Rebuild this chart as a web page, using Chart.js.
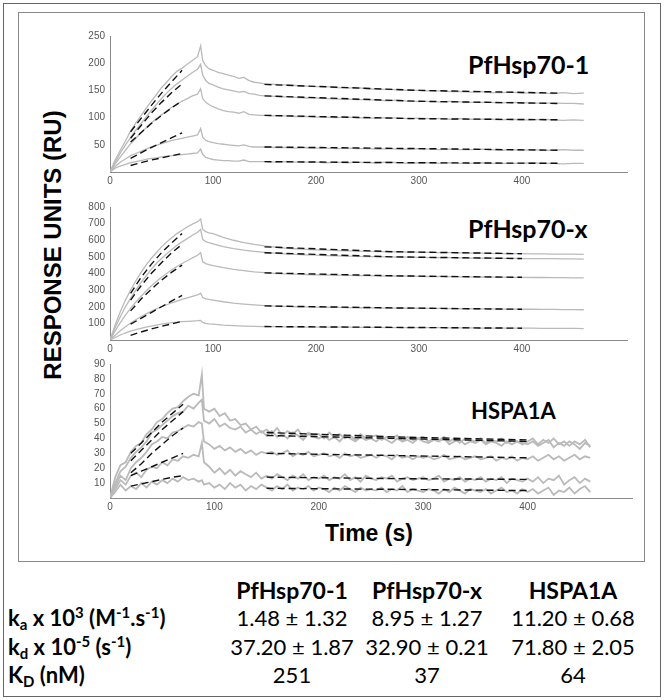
<!DOCTYPE html>
<html>
<head>
<meta charset="utf-8">
<script src="https://cdn.jsdelivr.net/npm/chart.js@4.4.1/dist/chart.umd.min.js"></script>
<style>
  body { margin: 0; width: 666px; height: 700px; background: #fff; position: relative; overflow: hidden; font-family: Lato, sans-serif; color: #000; }
  .abs { position: absolute; }
  .frame { position: absolute; box-sizing: border-box; }
  .title { position: absolute; font-family: Lato, sans-serif; font-weight: bold; font-size: 25px; line-height: 25px; white-space: nowrap; }
  .cell { position: absolute; width: 180px; text-align: center; font-size: 22px; line-height: 22px; white-space: nowrap; }
  .head { font-weight: bold; font-size: 23px; }
  .lab { position: absolute; left: 8px; font-weight: bold; font-size: 22px; line-height: 22px; white-space: nowrap; }
  sup, sub { font-size: 0.68em; line-height: 0; }
  sup { vertical-align: 0.55em; }
  sub { vertical-align: -0.28em; }
</style>
</head>
<body>
<div class="frame" style="left:3px;top:3px;width:658px;height:694px;border:1.5px solid #666;"></div>
<div class="frame" style="left:18px;top:12px;width:627px;height:550px;border:1.5px solid #888;"></div>

<div class="title" style="left:468px;top:52px;">PfHsp70-1</div>
<div class="title" style="left:468px;top:216px;">PfHsp70-x</div>
<div class="title" style="left:471px;top:400px;font-size:22px;line-height:22px;">HSPA1A</div>

<div class="abs" style="left:269px;top:522px;width:200px;text-align:center;font-family:'Liberation Sans',Arial,sans-serif;font-weight:bold;font-size:23px;line-height:23px;">Time (s)</div>
<div class="abs" style="left:-147px;top:230px;width:400px;height:30px;text-align:center;font-family:'Liberation Sans',Arial,sans-serif;font-weight:bold;font-size:24px;line-height:30px;transform:rotate(-90deg);">RESPONSE UNITS (RU)</div>

<div class="cell head" style="left:202px;top:579px;">PfHsp70-1</div>
<div class="cell head" style="left:337px;top:579px;">PfHsp70-x</div>
<div class="cell head" style="left:483px;top:579px;">HSPA1A</div>

<div class="lab" style="top:607px;">k<sub>a</sub> x 10<sup>3</sup> (M<sup>-1</sup>.s<sup>-1</sup>)</div>
<div class="cell" style="left:202px;top:607px;">1.48 ± 1.32</div>
<div class="cell" style="left:337px;top:607px;">8.95 ± 1.27</div>
<div class="cell" style="left:483px;top:607px;">11.20 ± 0.68</div>

<div class="lab" style="top:636px;">k<sub>d</sub> x 10<sup>-5</sup> (s<sup>-1</sup>)</div>
<div class="cell" style="left:202px;top:636px;">37.20 ± 1.87</div>
<div class="cell" style="left:337px;top:636px;">32.90 ± 0.21</div>
<div class="cell" style="left:483px;top:636px;">71.80 ± 2.05</div>

<div class="lab" style="top:664px;">K<sub>D</sub> (nM)</div>
<div class="cell" style="left:202px;top:664px;">251</div>
<div class="cell" style="left:337px;top:664px;">37</div>
<div class="cell" style="left:483px;top:664px;">64</div>

<script>
// tick labels
const xTicks = [0, 100, 200, 300, 400];
const yTicks1 = [50, 100, 150, 200, 250];
const yTicks2 = [100, 200, 300, 400, 500, 600, 700, 800];
const yTicks3 = [10, 20, 30, 40, 50, 60, 70, 80, 90];

// fit line time points
const assocT = [20, 30, 40, 50, 60, 70];
const dissT1 = [150, 300, 435];
const dissT = [150, 275, 400];

// PfHsp70-1 sensorgrams (RU)
const t1 = [0,5,10,15,20,25,30,35,40,45,50,55,60,65,70,75,80,85,88,90,93,96,100,105,110,115,120,125,130,135,140,145,150,160,170,180,190,200,210,220,230,240,250,260,270,280,290,300,310,320,330,340,350,360,370,380,390,400,410,420,430,440,450,460];
const p1c1 = [0,22,40,57,75,90,103,117,130,142,155,165,176,185,191,198,205,212,232,205,195,190,187,183,181,178,176,172,174,168,165,164,162,161,160,159,158,157,157,155,154,155,153,152,152,151,150,150,149,149,148,148,147,148,146,146,147,145,146,145,144,146,144,145];
const p1c2 = [0,18,35,50,63,77,89,101,113,124,135,145,154,162,169,176,183,189,198,178,168,163,160,156,153,151,149,147,148,144,143,141,140,139,138,137,136,136,135,134,134,133,133,132,131,132,130,130,130,129,130,129,128,128,128,127,128,127,127,126,127,126,126,125];
const p1c3 = [0,15,28,40,52,62,72,81,90,98,105,112,119,125,130,135,140,143,153,135,128,124,120,116,113,111,110,108,111,106,105,104,104,103,103,102,102,101,101,100,101,100,99,99,100,99,98,99,98,98,97,98,97,97,97,96,97,96,96,97,96,95,96,95];
const p1c4 = [0,10,18,24,30,34,38,42,46,49,52,55,58,60,62,64,66,68,80,64,58,56,54,52,51,50,49,48,50,47,46,46,46,45,45,44,45,44,44,43,44,43,43,42,43,42,42,43,42,41,42,41,41,42,41,40,41,40,41,40,40,41,40,40];
const p1c5 = [0,7,11,14,17,19,21,23,25,26,28,29,30,31,32,33,34,35,42,32,27,25,23,22,21,21,20,20,22,19,19,19,19,18,19,18,18,18,17,18,17,18,17,17,18,17,16,17,17,16,17,16,16,17,16,16,16,16,17,16,16,15,16,16];
const p1a = [[74,98,122,145,166,187],[62,85,108,128,146,162],[55,72,89,104,118,131],[25,35,45,54,63,72],[12,17,22,26,30,34]];
const p1d = [[161,150,145],[140,130,126],[104,98,96],[46,43,40],[19,17,16]];

// PfHsp70-x sensorgrams (RU)
const t2 = [0,5,10,15,20,25,30,35,40,45,50,55,60,65,70,75,80,85,88,90,93,96,100,110,120,130,140,150,160,170,180,190,200,210,220,230,240,250,260,270,280,290,300,310,320,330,340,350,360,370,380,390,400,410,420,430,440,450,460];
const p2c1 = [0,90,170,240,300,355,405,450,490,525,560,590,615,640,660,680,697,712,728,665,652,645,640,618,600,586,575,566,559,553,549,545,542,540,538,536,534,533,532,531,530,529,528,527,526,525,524,523,522,521,520,520,519,518,518,517,517,516,515];
const p2c2 = [0,75,140,200,250,300,345,385,425,460,490,518,545,570,590,610,630,648,665,605,592,585,578,562,550,540,533,527,522,518,515,512,510,508,506,505,503,502,501,500,499,498,497,496,495,495,494,493,493,492,491,491,490,490,489,489,488,488,487];
const p2c3 = [0,55,105,150,190,228,262,295,325,352,378,400,422,442,460,477,494,510,525,470,460,454,448,435,425,417,410,405,401,398,396,394,392,391,390,389,388,387,386,385,385,384,383,382,382,381,380,380,379,378,378,377,377,376,376,375,375,374,374];
const p2c4 = [0,28,55,80,102,122,140,157,173,187,200,212,224,234,244,254,263,271,282,255,248,244,240,230,222,216,211,207,204,202,200,199,198,197,196,195,194,194,193,192,192,191,191,190,190,189,188,188,187,187,186,186,185,185,184,184,183,183,182];
const p2c5 = [0,15,30,42,53,62,70,77,84,90,95,100,104,107,110,112,114,116,118,106,100,97,95,90,87,84,82,81,80,79,79,78,78,77,77,77,76,76,76,75,75,75,74,74,74,73,73,73,72,72,72,71,71,71,70,70,70,70,69];
const p2a = [[280,375,455,525,585,640],[240,325,400,465,525,575],[175,245,305,360,408,450],[95,130,165,200,235,268],[28,48,66,82,97,112]];
const p2d = [[560,531,519],[525,500,490],[404,386,377],[205,193,185],[81,76,71]];

// HSPA1A sensorgrams (RU)
const t3 = [0,5,10,15,20,25,30,35,40,45,50,55,60,65,70,75,80,85,88,90,95,100,105,110,115,120,125,130,135,140,145,150,155,160,165,170,175,180,185,190,195,200,205,210,215,220,225,230,235,240,245,250,255,260,265,270,275,280,285,290,295,300,305,310,315,320,325,330,335,340,345,350,355,360,365,370,375,380,385,390,395,400,405,410,415,420,425,430,435,440,445,450,455,460];
const p3c1 = [0,14,22,24,31,35,37,43,46,51,53,57,60,61,65,68,70,69,83,60,58,60,55,57,52,53,49,50,46,48,44,46,43,47,42,45,43,46,41,44,42,43,40,44,41,43,40,42,39,43,40,41,42,39,41,40,42,38,41,39,40,41,38,40,39,41,38,40,37,40,39,38,40,37,39,38,40,37,39,38,36,38,40,36,39,37,40,36,38,35,38,36,39,34];
const p3c2 = [0,10,18,21,27,31,34,38,44,46,49,52,55,57,58,62,60,64,66,52,50,53,48,50,47,46,48,44,46,43,45,42,45,41,43,40,44,42,39,43,41,40,42,39,41,38,42,40,38,41,39,40,38,41,39,37,40,38,39,37,40,38,37,39,38,40,36,38,39,36,38,37,39,36,38,37,35,38,36,38,37,36,38,35,37,39,34,37,35,38,36,33,37,35];
const p3c3 = [0,8,15,12,20,24,27,31,36,38,41,40,44,45,47,49,48,51,50,38,36,33,35,32,34,31,33,30,32,29,31,30,31,29,30,32,28,30,29,31,28,29,30,28,29,27,30,28,29,27,28,29,27,29,28,26,29,27,28,26,28,27,28,26,27,29,26,27,28,26,27,28,26,27,28,25,27,26,28,25,27,26,28,25,27,29,26,28,25,27,29,26,28,27];
const p3c4 = [0,6,12,9,15,17,14,19,21,20,24,22,26,25,28,27,29,28,37,24,21,17,20,16,19,15,18,16,14,17,13,15,13,16,14,12,15,13,16,12,14,13,15,12,14,13,16,12,14,11,15,13,12,14,13,15,11,13,14,12,13,14,12,13,15,11,13,12,14,11,13,12,14,11,13,12,14,10,13,12,11,13,11,14,10,13,12,15,9,12,14,10,13,11];
const p3c5 = [0,4,9,5,8,6,10,7,11,9,12,10,13,11,14,12,13,11,12,9,10,7,9,6,10,7,9,5,8,6,9,7,5,8,6,9,5,7,6,8,5,7,6,4,7,5,8,6,4,7,5,6,5,7,4,6,5,8,4,6,5,4,6,5,3,6,4,7,5,3,6,5,4,6,3,5,7,4,5,3,6,4,6,3,5,7,2,5,4,7,3,6,8,4];
const p3a = [[30,37,44,51,57,63],[25,32,39,46,52,58],[17,23,30,36,42,47],[15,18,21,24,27,30],[8,9.5,11,12.5,14,15]];
const p3d = [[44,41,39],[42,40,38],[30,28.5,27],[14,13,12.5],[6.5,5.8,5]];

function pts(t, v) {
  return t.map((x, i) => ({x: x, y: v[i]}));
}

function panel(area, xMax, yMax, yTicks, t, curves, assoc, dT, diss, lw) {
  const box = document.createElement('div');
  box.style.cssText = 'position:absolute;left:' + (area.l - 60) + 'px;top:' + (area.t - 10) + 'px;width:' +
    (area.r - area.l + 72) + 'px;height:' + (area.b - area.t + 30) + 'px;';
  const cv = document.createElement('canvas');
  box.appendChild(cv);
  document.body.appendChild(box);

  const datasets = [];
  assoc.forEach(f => datasets.push({data: pts(assocT, f), borderColor: '#111', borderWidth: 1.4, borderDash: [7, 4], order: 1}));
  diss.forEach(f => datasets.push({data: pts(dT, f), borderColor: '#111', borderWidth: 1.4, borderDash: [7, 4], order: 1}));
  curves.forEach(c => datasets.push({data: pts(t, c), borderColor: '#bababa', borderWidth: lw, order: 2}));

  new Chart(cv, {
    type: 'line',
    data: {datasets: datasets},
    options: {
      responsive: true,
      maintainAspectRatio: false,
      animation: false,
      layout: {padding: {left: 0, top: 10, right: 12, bottom: 0}},
      elements: {point: {radius: 0}, line: {tension: 0, fill: false}},
      plugins: {legend: {display: false}, tooltip: {enabled: false}},
      scales: {
        x: {
          type: 'linear', min: 0, max: xMax,
          grid: {display: false, drawTicks: false},
          border: {color: '#8a8a8a', width: 1},
          ticks: {color: '#555', padding: 3, maxRotation: 0, font: {family: 'Liberation Sans', size: 10}},
          afterBuildTicks: s => { s.ticks = xTicks.map(v => ({value: v})); },
          afterFit: s => { s.height = 20; }
        },
        y: {
          min: 0, max: yMax,
          grid: {display: false, drawTicks: false},
          border: {color: '#8a8a8a', width: 1},
          ticks: {color: '#555', padding: 5, font: {family: 'Liberation Sans', size: 10}},
          afterBuildTicks: s => { s.ticks = yTicks.map(v => ({value: v})); },
          afterFit: s => { s.width = 60; }
        }
      }
    }
  });
}

panel({l: 110, r: 627, t: 35, b: 172}, 502, 250, yTicks1, t1, [p1c1, p1c2, p1c3, p1c4, p1c5], p1a, dissT1, p1d, 1.3);
panel({l: 110, r: 627, t: 206, b: 340}, 502, 800, yTicks2, t2, [p2c1, p2c2, p2c3, p2c4, p2c5], p2a, dissT, p2d, 1.3);
panel({l: 110, r: 632, t: 363, b: 498}, 500, 90, yTicks3, t3, [p3c1, p3c2, p3c3, p3c4, p3c5], p3a, dissT, p3d, 1.8);
</script>
</body>
</html>
